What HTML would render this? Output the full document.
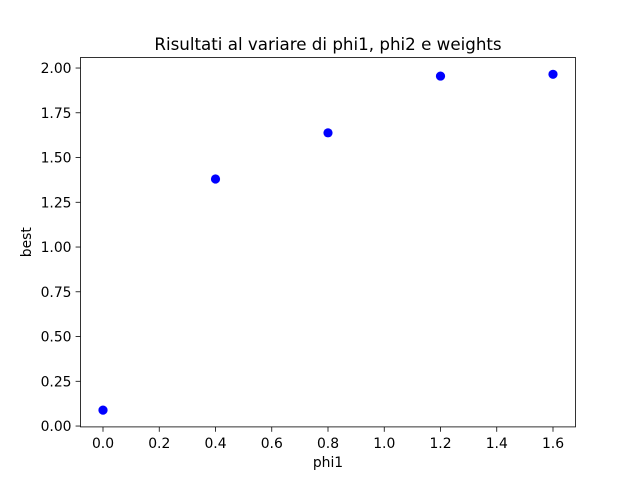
<!DOCTYPE html>
<html><head><meta charset="utf-8"><style>
body{margin:0;background:#fff;}
svg{display:block;font-family:"DejaVu Sans","Liberation Sans",sans-serif;}
</style></head><body>
<svg id="chart" width="640" height="480">
<rect x="0" y="0" width="640" height="480" fill="#fff"/>
</svg>
<script>
const xValues=[0.0,0.4,0.8,1.2,1.6];
const yValues=[0.089,1.38,1.638,1.955,1.965];
const xTicks=[0.0,0.2,0.4,0.6,0.8,1.0,1.2,1.4,1.6];
const xTickLabels=["0.0","0.2","0.4","0.6","0.8","1.0","1.2","1.4","1.6"];
const yTicks=[0,0.25,0.5,0.75,1.0,1.25,1.5,1.75,2.0];
const yTickLabels=["0.00","0.25","0.50","0.75","1.00","1.25","1.50","1.75","2.00"];
const svg=document.getElementById('chart');
const NS='http://www.w3.org/2000/svg';
const L=80.5,R=575.5,T=57.5,B=426.9;
const xmin=-0.08,xmax=1.68,ymin=-0.0048,ymax=2.0588;
const sx=v=>L+(v-xmin)/(xmax-xmin)*(R-L);
const sy=v=>B-(v-ymin)/(ymax-ymin)*(B-T);
function mk(tag,attrs,txt){const e=document.createElementNS(NS,tag);for(const k in attrs)e.setAttribute(k,attrs[k]);if(txt!==undefined)e.textContent=txt;svg.appendChild(e);return e;}
xTicks.forEach((t,i)=>{
 const x=sx(t);
 const l=mk('line',{x1:x,x2:x,y1:B,y2:B+4.9,stroke:'#000','stroke-width':0.8});
 
 
 const tx=mk('text',{x:x,y:B+21,'font-size':13.9,'text-anchor':'middle',fill:'#000'},xTickLabels[i]);
 
 
});
yTicks.forEach((t,i)=>{
 const y=sy(t);
 const l=mk('line',{x1:L-4.9,x2:L,y1:y,y2:y,stroke:'#000','stroke-width':0.8});
 
 
 const tx=mk('text',{x:L-9,y:y+5,'font-size':13.9,'text-anchor':'end',fill:'#000'},yTickLabels[i]);
 
 
});
xValues.forEach((v,i)=>{
 const c=mk('circle',{cx:sx(v),cy:sy(yValues[i]),r:4.6,fill:'#0000ff'});
 
 
});
const f=mk('rect',{x:L,y:T,width:R-L,height:B-T,fill:'none',stroke:'#000','stroke-width':0.8});


const title=mk('text',{x:(L+R)/2,y:50,'font-size':16.7,'text-anchor':'middle',fill:'#000'},'Risultati al variare di phi1, phi2 e weights');


const xl=mk('text',{x:(L+R)/2,y:467,'font-size':13.9,'text-anchor':'middle',fill:'#000'},'phi1');


const yl=mk('text',{x:31,y:(T+B)/2,'font-size':13.9,'text-anchor':'middle',fill:'#000',transform:`rotate(-90 31 ${(T+B)/2})`},'best');


</script>
</body></html>
